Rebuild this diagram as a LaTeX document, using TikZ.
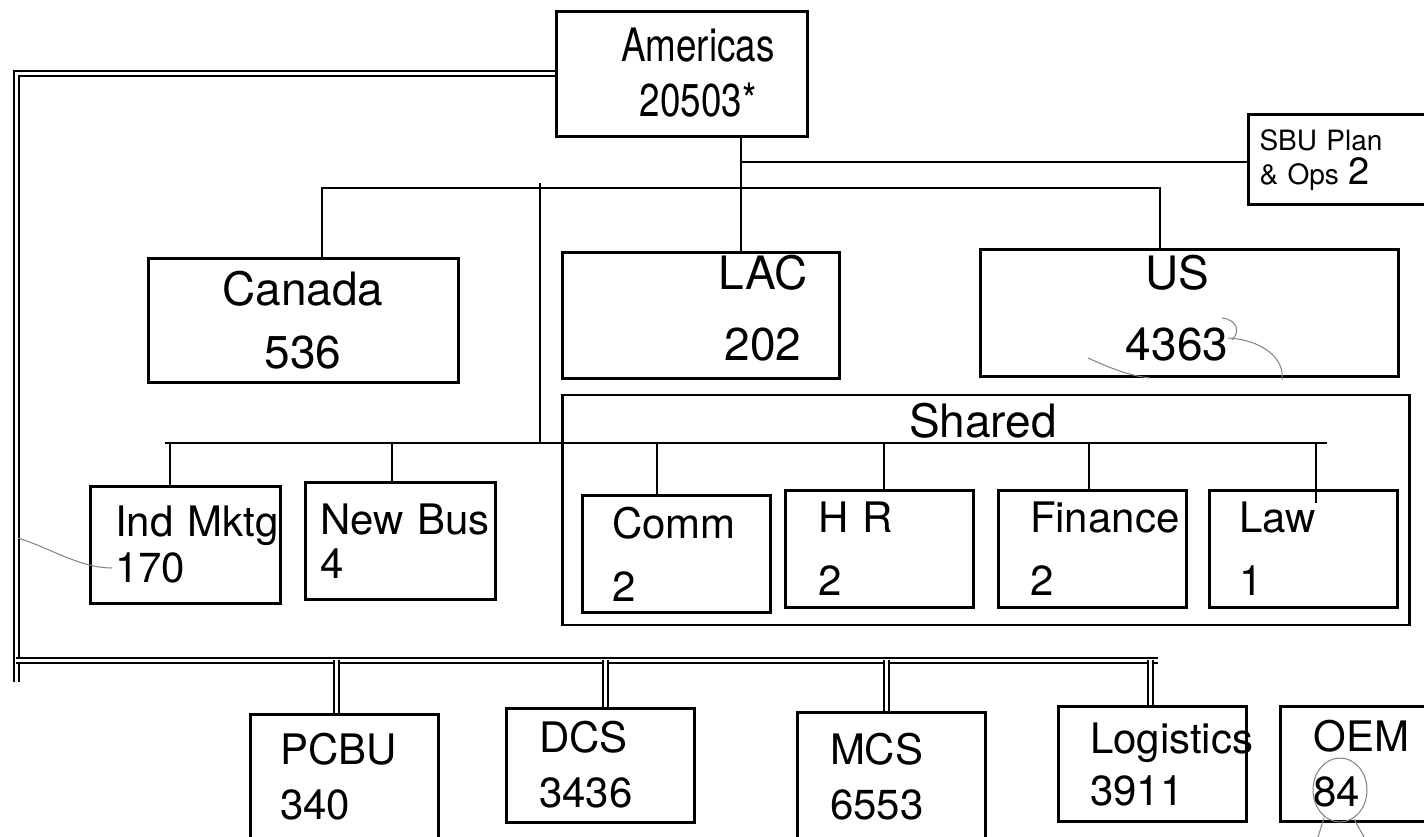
\documentclass[tikz,border=0pt]{standalone}
\usepackage{fontspec}
\setmainfont{TeX Gyre Heros}
\newfontfamily\condensed{TeX Gyre Heros}[FakeStretch=0.8]
\usepackage{xcolor}
\usepackage{tikz}
\usetikzlibrary{
	calc,
	positioning
}

\tikzset{
	box/.style={draw, line width=3pt, inner sep=0pt},
	hub/.style={box, align=center, font=\fontsize{46}{55}\selectfont},
	hubtext/.style={inner sep=0pt, align=center, font=\fontsize{46}{55}\selectfont},
	unit/.style={box, align=left, font=\fontsize{42}{46}\selectfont,
		minimum width=188pt, minimum height=117pt, text width=128pt, inner xsep=30pt},
	link/.style={line width=2.5pt},
	dbl/.style={double, line width=2pt, double distance=3pt},
	scrawl/.style={gray, line width=1pt}
}

\begin{document}
\begin{tikzpicture}[x=1pt, y=-1pt]
		
		\useasboundingbox (0,0) rectangle (1424,837);
		\clip (0,0) rectangle (1424,837);
		
		\node[box, minimum width=251pt, minimum height=125pt] (americas) at (682,74) {};
		\node[hubtext, font=\condensed\fontsize{46}{55}\selectfont] (americaslbl)
			at ([xshift=16pt, yshift=1pt]americas.center) {Americas\\20503*};
		
		\node[box, anchor=west, align=left, minimum width=200pt, minimum height=90pt,
			text width=178pt, inner xsep=11pt, font=\fontsize{28}{34}\selectfont]
			(sbu) at (1247,160) {SBU~Plan\\\&~Ops {\fontsize{38}{38}\selectfont 2}};
		
		\node[hub, minimum width=310pt, minimum height=124pt] (canada) at (303,320) {Canada\\[8pt]536};
		
		\node[box, minimum width=277pt, minimum height=126pt] (lac) at (701,315) {};
		\node[hubtext] (laclbl) at ([xshift=62pt, yshift=7pt]lac.center) {LAC\\[16pt]202};
		
		\node[box, minimum width=418pt, minimum height=127pt] (us) at (1189,313) {};
		\node[hubtext] (uslbl) at ([xshift=-12pt, yshift=5pt]us.center) {US\\[16pt]4363};
		
		\node[box, line width=2.5pt, minimum width=847pt, minimum height=230pt] (shared) at (986,510) {};
		\node[anchor=base, font=\fontsize{46}{55}\selectfont] (sharedlbl) at (983,437) {Shared};
		
		\node[unit, inner xsep=25pt, text width=140pt] (indmktg) at (185,545) {Ind~Mktg\\170};
		\node[unit, inner xsep=15pt, text width=160pt] (newbus) at (400,541) {New~Bus\\[-2pt]4};
		\node[unit] (comm) at (676,554) {Comm\\[17pt]2};
		\node[unit, inner xsep=33pt, text width=122pt] (hr) at (879,549) {H~R\\[17pt]2};
		\node[unit, inner xsep=32pt, text width=124pt] (finance) at (1092,549) {Finance\\[17pt]2};
		\node[unit] (law) at (1303,549) {Law\\[17pt]1};
		
		\node[unit, minimum height=125pt] (pcbu) at (344,777) {PCBU\\[9pt]340};
		\node[unit, inner xsep=33pt, text width=122pt, minimum height=114pt] (dcs) at (600,765) {DCS\\[9pt]3436};
		\node[unit, inner xsep=33pt, text width=122pt, minimum height=129pt] (mcs) at (891,777) {MCS\\[9pt]6553};
		\node[unit, inner xsep=32pt, text width=124pt, minimum height=115pt] (logistics) at (1152,764) {Logistics\\[6pt]3911};
		\node[unit, inner xsep=16pt, text width=121pt, minimum height=115pt] (oem) at (1374,764) {OEM\\[9pt]84};
		
		\coordinate (hub) at (741,162);
		\coordinate (bar) at (741,188);
		\coordinate (tap) at (540,183);
		\coordinate (lowL) at (165,443);
		\coordinate (lowR) at (1327,443);
		\coordinate (spine) at (16,682);
		\coordinate (bus) at (16,660);
		\coordinate (busend) at (1158,660);
		
		\draw[link] (americas.south -| hub) -- (lac.north -| hub);
		\draw[link] (hub) -- (sbu.west |- hub);
		\draw[link] ([xshift=19pt]canada.north) |- (bar) -| ([xshift=-29pt]us.north);
		
		\draw[link] (tap) -- (tap |- lowL);
		\draw[link] (lowL) -- (lowR);
		\foreach \n/\dx in {indmktg/-15, newbus/-8, comm/-19, hr/5, finance/-3}
		\draw[link] ([xshift=\dx pt]\n.north |- lowL) -- ([xshift=\dx pt]\n.north);
		\draw[link] ([xshift=13pt]law.north |- lowL) -- ([xshift=13pt, yshift=-14pt]law.north);
		
		\draw[dbl] (americas.west) -| (spine);
		\draw[dbl] (bus) -- (busend);
		\foreach \n/\dx in {pcbu/-8, dcs/5, mcs/-5, logistics/-2}
		\draw[dbl] ([xshift=\dx pt]\n.north |- bus) -- ([xshift=\dx pt]\n.north);
		
		\draw[scrawl] (18,538) .. controls (50,548) and (80,568) .. (112,568);
		\draw[scrawl] (1088,358) .. controls (1110,368) and (1130,376) .. (1150,378);
		\draw[scrawl] (1228,338) .. controls (1262,340) and (1285,358) .. (1282,380);
		\draw[scrawl] (1222,318) .. controls (1238,320) and (1240,332) .. (1232,340);
		\draw[scrawl] (1340,790) ellipse (27 and 32);
		\draw[scrawl] (1324,818) -- (1318,837);
		\draw[scrawl] (1354,819) -- (1364,837);
		
	\end{tikzpicture}
\end{document}
